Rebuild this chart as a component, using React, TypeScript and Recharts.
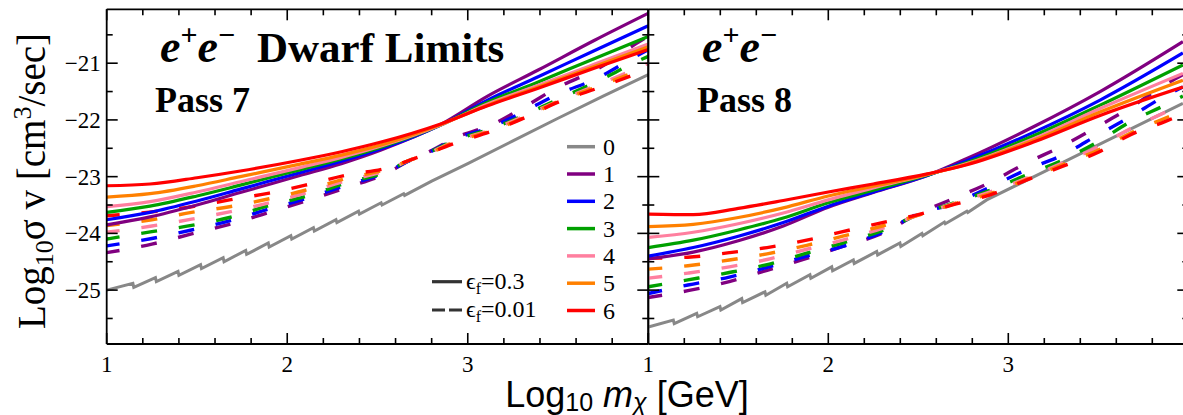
import React from "react";
import { LineChart, Line, XAxis, YAxis } from "recharts";

const SERIF = "'Liberation Serif', 'Times New Roman', serif";
const SANS = "'Liberation Sans', Arial, sans-serif";

// series 0..6
const SERIES_NAMES = ["0", "1", "2", "3", "4", "5", "6"];
const SERIES_COLORS = ["#888888", "#800080", "#0000ff", "#00a000", "#ff7f9f", "#ff8000", "#ff0000"];
const EPS_LABELS = ["0.3", "0.01"];

const X_TICKS = [1, 1.2, 1.4, 1.6, 1.8, 2, 2.2, 2.4, 2.6, 2.8, 3, 3.2, 3.4, 3.6, 3.8, 4];
const X_LABELLED = [1, 2, 3];
const Y_TICKS = [-25.5, -25, -24.5, -24, -23.5, -23, -22.5, -22, -21.5, -21, -20.5];

// ---- Pass 7 ----
const P7_GRAY_M = [1, 1.145, 1.15, 1.27, 1.275, 1.395, 1.4, 1.52, 1.525, 1.645, 1.65, 1.77, 1.775, 1.895, 1.9, 2.02, 2.025, 2.145, 2.15, 2.27, 2.275, 2.395, 2.4, 2.52, 2.525, 2.645, 2.65, 2.8, 3.0, 3.25, 3.5, 3.75, 4.0];
const P7_GRAY = [-25.0, -24.88, -24.95, -24.78, -24.85, -24.67, -24.74, -24.55, -24.62, -24.43, -24.5, -24.3, -24.37, -24.17, -24.24, -24.04, -24.1, -23.9, -23.96, -23.76, -23.81, -23.61, -23.66, -23.46, -23.5, -23.3, -23.33, -23.08, -22.77, -22.37, -21.97, -21.58, -21.2];

const P7_SOLID_M = [1, 1.24, 1.5, 1.74, 2.07, 2.3, 2.52, 2.85, 3.11, 3.39, 3.7, 4.0];
const P7_SOLID_1 = [-23.85, -23.71, -23.5, -23.28, -22.98, -22.77, -22.53, -22.08, -21.58, -21.12, -20.6, -20.12];
const P7_SOLID_2 = [-23.76, -23.63, -23.43, -23.22, -22.93, -22.73, -22.51, -22.09, -21.65, -21.24, -20.78, -20.34];
const P7_SOLID_3 = [-23.63, -23.52, -23.34, -23.15, -22.88, -22.69, -22.48, -22.09, -21.69, -21.33, -20.92, -20.53];
const P7_SOLID_4 = [-23.53, -23.44, -23.27, -23.09, -22.84, -22.66, -22.46, -22.09, -21.72, -21.39, -21.02, -20.66];
const P7_SOLID_5 = [-23.36, -23.3, -23.16, -23.0, -22.78, -22.62, -22.44, -22.08, -21.74, -21.42, -21.06, -20.71];
const P7_SOLID_6 = [-23.16, -23.13, -23.02, -22.9, -22.71, -22.56, -22.39, -22.07, -21.75, -21.44, -21.09, -20.76];

const P7_DASH_M = [1, 1.25, 1.47, 1.68, 1.9, 2.1, 2.33, 2.55, 2.67, 2.8, 2.92, 3.15, 3.33, 3.49, 3.72, 3.93, 4.0];
const P7_DASH_1 = [-24.34, -24.19, -24.01, -23.84, -23.63, -23.43, -23.19, -22.94, -22.73, -22.54, -22.33, -22.06, -21.74, -21.44, -21.1, -20.66, -20.52];
const P7_DASH_2 = [-24.22, -24.09, -23.94, -23.78, -23.57, -23.39, -23.15, -22.92, -22.73, -22.55, -22.35, -22.1, -21.82, -21.56, -21.26, -20.88, -20.76];
const P7_DASH_3 = [-24.1, -23.97, -23.86, -23.72, -23.51, -23.35, -23.11, -22.91, -22.72, -22.55, -22.37, -22.13, -21.89, -21.65, -21.32, -20.98, -20.88];
const P7_DASH_4 = [-23.98, -23.87, -23.75, -23.62, -23.46, -23.29, -23.07, -22.89, -22.72, -22.56, -22.39, -22.15, -21.91, -21.68, -21.38, -21.1, -21.0];
const P7_DASH_5 = [-23.86, -23.76, -23.63, -23.53, -23.39, -23.24, -23.03, -22.87, -22.72, -22.57, -22.4, -22.17, -21.93, -21.69, -21.41, -21.15, -21.06];
const P7_DASH_6 = [-23.69, -23.62, -23.53, -23.41, -23.29, -23.15, -22.97, -22.85, -22.72, -22.57, -22.42, -22.18, -21.94, -21.7, -21.44, -21.19, -21.1];

// ---- Pass 8 ----
const P8_GRAY_M = [1, 1.139, 1.144, 1.269, 1.274, 1.398, 1.403, 1.519, 1.524, 1.648, 1.653, 1.769, 1.774, 1.898, 1.903, 2.019, 2.024, 2.139, 2.144, 2.269, 2.274, 2.398, 2.403, 2.52, 2.525, 2.645, 2.65, 2.77, 2.775, 2.88, 3.2, 3.5, 3.97];
const P8_GRAY = [-25.65, -25.53, -25.59, -25.41, -25.47, -25.29, -25.35, -25.15, -25.22, -25.03, -25.09, -24.88, -24.94, -24.73, -24.79, -24.59, -24.66, -24.47, -24.53, -24.32, -24.38, -24.17, -24.23, -24.0, -24.04, -23.8, -23.83, -23.61, -23.63, -23.41, -22.91, -22.44, -21.71];

const P8_SOLID_M = [1, 1.25, 1.5, 1.75, 2, 2.25, 2.55, 2.77, 3.14, 3.51, 3.97];
const P8_SOLID_1 = [-24.45, -24.33, -24.13, -23.87, -23.54, -23.28, -22.98, -22.68, -22.12, -21.5, -20.62];
const P8_SOLID_2 = [-24.4, -24.25, -24.05, -23.81, -23.52, -23.27, -22.98, -22.72, -22.22, -21.65, -20.82];
const P8_SOLID_3 = [-24.25, -24.12, -23.94, -23.73, -23.46, -23.24, -22.97, -22.75, -22.28, -21.74, -21.03];
const P8_SOLID_4 = [-24.07, -23.98, -23.83, -23.64, -23.41, -23.2, -22.96, -22.77, -22.33, -21.8, -21.18];
const P8_SOLID_5 = [-23.88, -23.84, -23.72, -23.55, -23.34, -23.17, -22.96, -22.78, -22.36, -21.86, -21.3];
const P8_SOLID_6 = [-23.66, -23.67, -23.56, -23.42, -23.27, -23.13, -22.95, -22.79, -22.39, -21.92, -21.42];

const P8_DASH_M = [1, 1.22, 1.45, 1.66, 1.88, 2.08, 2.3, 2.5, 2.7, 2.9, 3.1, 3.3, 3.5, 3.68, 3.87, 3.97];
const P8_DASH_1 = [-25.13, -25.01, -24.85, -24.65, -24.44, -24.23, -24.0, -23.65, -23.38, -23.1, -22.76, -22.46, -22.11, -21.78, -21.38, -21.2];
const P8_DASH_2 = [-25.06, -24.91, -24.77, -24.6, -24.4, -24.23, -23.98, -23.66, -23.47, -23.18, -22.88, -22.62, -22.26, -21.94, -21.58, -21.42];
const P8_DASH_3 = [-24.94, -24.82, -24.69, -24.55, -24.35, -24.17, -23.95, -23.67, -23.46, -23.24, -22.97, -22.71, -22.38, -22.03, -21.74, -21.58];
const P8_DASH_4 = [-24.79, -24.7, -24.59, -24.46, -24.28, -24.12, -23.91, -23.68, -23.47, -23.27, -23.03, -22.76, -22.47, -22.15, -21.87, -21.73];
const P8_DASH_5 = [-24.63, -24.57, -24.47, -24.36, -24.21, -24.05, -23.87, -23.68, -23.48, -23.3, -23.05, -22.79, -22.53, -22.23, -21.97, -21.84];
const P8_DASH_6 = [-24.44, -24.42, -24.34, -24.25, -24.12, -23.97, -23.81, -23.67, -23.49, -23.32, -23.06, -22.82, -22.57, -22.26, -22.03, -21.9];

type Pt = { m: number; v: number };
const zip = (ms: number[], vs: number[]): Pt[] => ms.map((m, i) => ({ m, v: vs[i] }));

const H = 415;
const Y_DOMAIN: [number, number] = [-25.95, -20.05];
const FRAME = { stroke: "#000", strokeWidth: 1.8 };
const isMajor = (v: number) => Math.abs(v - Math.round(v)) < 1e-6;

const bottomTick = (labels: boolean) => (p: any) => {
  const v = p.payload.value;
  const major = isMajor(v);
  return (
    <g>
      <line x1={p.x} x2={p.x} y1={p.y} y2={p.y - (major ? 11 : 6)} stroke="#000" strokeWidth={1.6} />
      {labels && major && X_LABELLED.includes(Math.round(v)) && (
        <text x={p.x} y={p.y + 28} textAnchor="middle" fontSize={23} fontFamily={SERIF} fill="#000">
          {Math.round(v)}
        </text>
      )}
    </g>
  );
};

const topTick = (p: any) => {
  const major = isMajor(p.payload.value);
  return <line x1={p.x} x2={p.x} y1={p.y} y2={p.y + (major ? 11 : 6)} stroke="#000" strokeWidth={1.6} />;
};

const leftTick = (labels: boolean) => (p: any) => {
  const v = p.payload.value;
  const major = isMajor(v);
  return (
    <g>
      <line x1={p.x} x2={p.x + (major ? 11 : 6)} y1={p.y} y2={p.y} stroke="#000" strokeWidth={1.6} />
      {labels && major && (
        <text x={p.x - 6} y={p.y + 8} textAnchor="end" fontSize={23} fontFamily={SERIF} fill="#000">
          {"\u2212" + Math.abs(Math.round(v))}
        </text>
      )}
    </g>
  );
};

const rightTick = (p: any) => {
  const major = isMajor(p.payload.value);
  return <line x1={p.x} x2={p.x - (major ? 11 : 6)} y1={p.y} y2={p.y} stroke="#000" strokeWidth={1.6} />;
};

interface PanelProps {
  left: number;
  width: number;
  margin: { top: number; right: number; bottom: number; left: number };
  gray: Pt[];
  solid: Pt[][];
  dashed: Pt[][];
  yLabels: boolean;
  dashOffset: number;
}

// axes are 1px thick boxes (recharts skips zero-sized axes), margins compensate
function Panel({ left, width, margin, gray, solid, dashed, yLabels, dashOffset }: PanelProps) {
  return (
    <div style={{ position: "absolute", left, top: 0 }}>
      <LineChart width={width} height={H} margin={margin}>
        <XAxis xAxisId="b" type="number" dataKey="m" domain={[1, 4]} allowDataOverflow ticks={X_TICKS} interval={0}
          height={1} tickSize={0} tickMargin={0} tickLine={false} axisLine={FRAME} tick={bottomTick(true)} />
        <XAxis xAxisId="t" orientation="top" type="number" dataKey="m" domain={[1, 4]} allowDataOverflow ticks={X_TICKS}
          interval={0} height={1} tickSize={0} tickMargin={0} tickLine={false} axisLine={FRAME} tick={topTick} />
        <YAxis yAxisId="l" type="number" domain={Y_DOMAIN} allowDataOverflow ticks={Y_TICKS} interval={0}
          width={1} tickSize={0} tickMargin={0} tickLine={false} axisLine={FRAME} tick={leftTick(yLabels)} />
        <YAxis yAxisId="r" orientation="right" type="number" domain={Y_DOMAIN} allowDataOverflow ticks={Y_TICKS}
          interval={0} width={1} tickSize={0} tickMargin={0} tickLine={false} axisLine={FRAME} tick={rightTick} />
        <Line xAxisId="b" yAxisId="l" data={gray} dataKey="v" type="linear" stroke={SERIES_COLORS[0]}
          strokeWidth={3} dot={false} isAnimationActive={false} />
        {dashed.map((d, i) => (
          <Line key={"d" + i} xAxisId="b" yAxisId="l" data={d} dataKey="v" type="monotone" stroke={SERIES_COLORS[i + 1]}
            strokeWidth={3.4} strokeDasharray="16 22" strokeDashoffset={dashOffset} dot={false} isAnimationActive={false} />
        ))}
        {solid.map((d, i) => (
          <Line key={"s" + i} xAxisId="b" yAxisId="l" data={d} dataKey="v" type="monotone" stroke={SERIES_COLORS[i + 1]}
            strokeWidth={3.2} dot={false} isAnimationActive={false} />
        ))}
      </LineChart>
    </div>
  );
}

function EE({ x }: { x: number }) {
  return (
    <text x={x} y={62} fontSize={46} fontWeight="bold" fontFamily={SERIF}>
      <tspan fontStyle="italic">e</tspan>
      <tspan fontSize={30} dy={-17}>+</tspan>
      <tspan fontStyle="italic" dy={17}>e</tspan>
      <tspan fontSize={30} dy={-17}>{"\u2212"}</tspan>
    </text>
  );
}

export default function App() {
  const p7Solid = [P7_SOLID_1, P7_SOLID_2, P7_SOLID_3, P7_SOLID_4, P7_SOLID_5, P7_SOLID_6].map((s) => zip(P7_SOLID_M, s));
  const p7Dash = [P7_DASH_1, P7_DASH_2, P7_DASH_3, P7_DASH_4, P7_DASH_5, P7_DASH_6].map((s) => zip(P7_DASH_M, s));
  const p8Solid = [P8_SOLID_1, P8_SOLID_2, P8_SOLID_3, P8_SOLID_4, P8_SOLID_5, P8_SOLID_6].map((s) => zip(P8_SOLID_M, s));
  const p8Dash = [P8_DASH_1, P8_DASH_2, P8_DASH_3, P8_DASH_4, P8_DASH_5, P8_DASH_6].map((s) => zip(P8_DASH_M, s));

  return (
    <div style={{ position: "fixed", left: 0, top: 0, width: 1183, height: H, overflow: "hidden", background: "#fff" }}>
      <Panel left={0} width={700} margin={{ top: 8.3, right: 50.7, bottom: 70, left: 105.7 }}
        gray={zip(P7_GRAY_M, P7_GRAY)} solid={p7Solid} dashed={p7Dash} yLabels dashOffset={3} />
      <Panel left={600} width={600} margin={{ top: 8.3, right: 10.7, bottom: 70, left: 47.3 }}
        gray={zip(P8_GRAY_M, P8_GRAY)} solid={p8Solid} dashed={p8Dash} yLabels={false} dashOffset={2} />

      <svg width={1183} height={H} style={{ position: "absolute", left: 0, top: 0, pointerEvents: "none" }}>
        {/* titles */}
        <EE x={160} />
        <text x={257} y={62} fontSize={43} fontWeight="bold" fontFamily={SERIF}>Dwarf Limits</text>
        <text x={155} y={112} fontSize={36} fontWeight="bold" fontFamily={SERIF}>Pass 7</text>
        <EE x={702} />
        <text x={697} y={112} fontSize={36} fontWeight="bold" fontFamily={SERIF}>Pass 8</text>

        {/* y axis label */}
        <text transform="translate(45,181) rotate(-90)" textAnchor="middle" fontSize={39} fontFamily={SERIF}>
          Log<tspan fontSize={26} dy={8}>10</tspan>
          <tspan dy={-8}>{"\u03c3 v [cm"}</tspan>
          <tspan fontSize={26} dy={-14}>3</tspan>
          <tspan dy={14}>/sec]</tspan>
        </text>

        {/* x axis label */}
        <text x={627} y={407} textAnchor="middle" fontSize={36} fontFamily={SANS}>
          Log<tspan fontSize={25} dy={4}>10</tspan>
          <tspan dy={-4} fontStyle="italic">{" m"}</tspan>
          <tspan fontSize={25} dy={4} fontStyle="italic">{"\u03c7"}</tspan>
          <tspan dy={-4}>{" [GeV]"}</tspan>
        </text>

        {/* series legend */}
        {SERIES_NAMES.map((n, i) => (
          <g key={n}>
            <line x1={567} x2={595} y1={146.7 + i * 27.3} y2={146.7 + i * 27.3} stroke={SERIES_COLORS[i]} strokeWidth={3.5} />
            <text x={603} y={146.7 + i * 27.3 + 8} fontSize={24} fontFamily={SERIF}>{n}</text>
          </g>
        ))}

        {/* epsilon legend */}
        {EPS_LABELS.map((e, i) => (
          <g key={e}>
            <line x1={432} x2={462} y1={281.7 + i * 28.3} y2={281.7 + i * 28.3} stroke="#333" strokeWidth={3.2}
              strokeDasharray={i === 1 ? "13 4" : undefined} />
            <text x={466} y={281.7 + i * 28.3 + 7} fontSize={24} fontFamily={SERIF}>
              {"\u03f5"}<tspan fontSize={16} dy={5}>f</tspan><tspan dy={-5}>{"=" + e}</tspan>
            </text>
          </g>
        ))}
      </svg>
    </div>
  );
}
